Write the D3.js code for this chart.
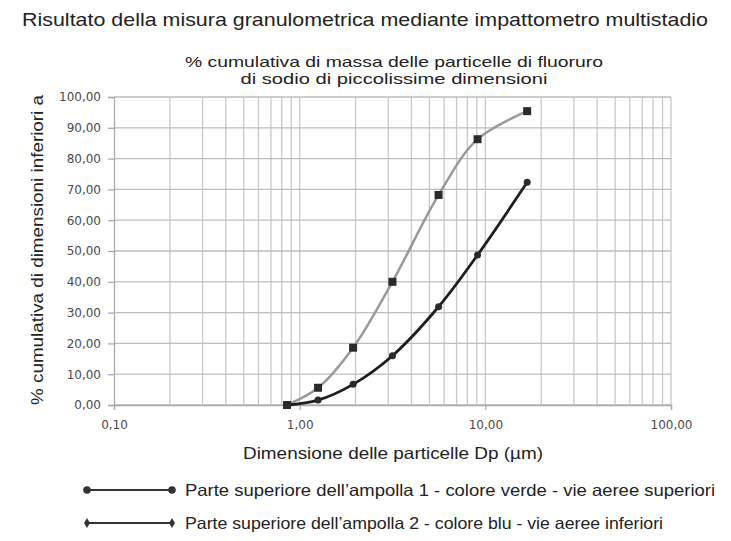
<!DOCTYPE html>
<html lang="it">
<head>
<meta charset="UTF-8">
<title>Misura granulometrica</title>
<script src="https://d3js.org/d3.v7.min.js"></script>
<style>
    body { margin: 0; background: #fff; font-family: "Liberation Sans", Arial, sans-serif; }
    svg text { fill: #222; }
</style>
</head>
<body>
<div id="chart"></div>
<script>
    // diametri (µm) e % cumulative
    const diameters = [0.855, 1.256, 1.94, 3.16, 5.6, 9.08, 16.8];
    const upperAirways = [0.0, 5.6, 18.6, 40.0, 68.2, 86.3, 95.4];   // curva grigia, quadrati
    const lowerAirways = [0.0, 1.6, 6.7, 16.0, 31.9, 48.7, 72.3];    // curva scura, cerchi
    const xTicks = [0.1, 1, 10, 100];
    const yTicks = [0, 10, 20, 30, 40, 50, 60, 70, 80, 90, 100];
    const legendLabels = [
        "Parte superiore dell\u2019ampolla 1 - colore verde - vie aeree superiori",
        "Parte superiore dell\u2019ampolla 2 - colore blu - vie aeree inferiori"
    ];

    const width = 731, height = 541;
    const plot = { left: 114, right: 671, top: 97, bottom: 405 };

    const svg = d3.select('#chart').append('svg')
        .attr('width', width)
        .attr('height', height);

    const x = d3.scaleLog().domain([0.1, 100]).range([plot.left, plot.right]);
    const y = d3.scaleLinear().domain([0, 100]).range([plot.bottom, plot.top]);
    const fmt = v => d3.format('.2f')(v).replace('.', ',');

    // minor vertical grid (2..9 per decade)
    const minor = [];
    [0.1, 1, 10].forEach(d => { for (let k = 2; k <= 9; k++) minor.push(d * k); });
    svg.append('g').selectAll('line')
        .data(minor.concat([1, 10, 100]))
        .enter().append('line')
        .attr('x1', d => x(d)).attr('x2', d => x(d))
        .attr('y1', plot.top).attr('y2', plot.bottom)
        .style('stroke', '#c8c8c8').style('stroke-width', 1.3);

    // horizontal grid
    svg.append('g').selectAll('line')
        .data(yTicks)
        .enter().append('line')
        .attr('x1', plot.left).attr('x2', plot.right)
        .attr('y1', d => y(d)).attr('y2', d => y(d))
        .style('stroke', '#bdbdbd').style('stroke-width', 1.3);

    // axes
    const yAxis = svg.append('g')
        .attr('transform', `translate(${plot.left},0)`)
        .call(d3.axisLeft(y).tickValues(yTicks).tickFormat(fmt).tickSize(6).tickPadding(6));
    const xAxis = svg.append('g')
        .attr('transform', `translate(0,${plot.bottom})`)
        .call(d3.axisBottom(x).tickValues(xTicks).tickFormat(fmt).tickSize(5).tickPadding(10));
    [yAxis, xAxis].forEach(a => {
        a.select('.domain').style('stroke', '#aaa').style('stroke-width', 1.3);
        a.selectAll('.tick line').style('stroke', '#aaa').style('stroke-width', 1.3);
        a.selectAll('.tick text').style('font-size', '12px').style('fill', '#4a4a4a')
            .style('font-family', '"DejaVu Sans", sans-serif');
    });
    yAxis.selectAll('.tick text').attr('x', -13);

    // series
    const line = vals => d3.line()
        .x((d, i) => x(diameters[i]))
        .y(d => y(d))
        .curve(d3.curveCatmullRom.alpha(0.5))(vals);

    svg.append('path').attr('d', line(upperAirways))
        .style('fill', 'none').style('stroke', '#999').style('stroke-width', 2.5);
    svg.append('path').attr('d', line(lowerAirways))
        .style('fill', 'none').style('stroke', '#1e1e1e').style('stroke-width', 2.8);

    svg.append('g').selectAll('rect')
        .data(upperAirways)
        .enter().append('rect')
        .attr('x', (d, i) => x(diameters[i]) - 4)
        .attr('y', d => y(d) - 4)
        .attr('width', 8).attr('height', 8)
        .style('fill', '#2a2a2a');
    svg.append('g').selectAll('circle')
        .data(lowerAirways)
        .enter().append('circle')
        .attr('cx', (d, i) => x(diameters[i]))
        .attr('cy', d => y(d))
        .attr('r', 3.5)
        .style('fill', '#2a2a2a');

    // text helper: the original type is a bit wider than Liberation Sans
    function label(g, txt, px, py, size, len, anchor) {
        return g.append('text').attr('x', px).attr('y', py)
            .attr('text-anchor', anchor || 'middle')
            .attr('textLength', len).attr('lengthAdjust', 'spacingAndGlyphs')
            .style('font-size', size + 'px')
            .text(txt);
    }

    // titles
    label(svg, 'Risultato della misura granulometrica mediante impattometro multistadio', 365, 26, 19, 686);
    label(svg, '% cumulativa di massa delle particelle di fluoruro', 394, 67, 14.5, 418);
    label(svg, 'di sodio di piccolissime dimensioni', 394, 84, 14.5, 307);
    svg.append('text')
        .attr('transform', 'translate(43,250) rotate(-90)')
        .attr('text-anchor', 'middle').style('font-size', '16.5px')
        .attr('textLength', 310).attr('lengthAdjust', 'spacingAndGlyphs')
        .text('% cumulativa di dimensioni inferiori a');
    label(svg, 'Dimensione delle particelle Dp (\u00b5m)', 393, 459, 16.5, 300);

    // legend
    const legend = svg.append('g');
    legendLabels.forEach((txt, i) => {
        const ly = 490 + i * 33;
        legend.append('line')
            .attr('x1', 87).attr('x2', 172).attr('y1', ly).attr('y2', ly)
            .style('stroke', '#333').style('stroke-width', 2);
        if (i === 0) {
            [87, 172].forEach(cx => legend.append('circle')
                .attr('cx', cx).attr('cy', ly).attr('r', 3.8).style('fill', '#333'));
        } else {
            [87, 172].forEach(cx => legend.append('path')
                .attr('d', d3.symbol(d3.symbolDiamond, 30)())
                .attr('transform', `translate(${cx},${ly})`).style('fill', '#333'));
        }
        label(legend, txt, 185, ly + 6, 16.5, i === 0 ? 530 : 478, 'start');
    });
</script>
</body>
</html>
